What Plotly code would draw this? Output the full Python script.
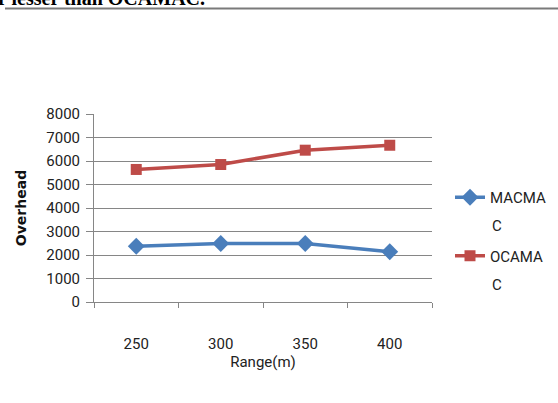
import plotly.graph_objects as go

ranges = ["250", "300", "350", "400"]
macmac = [2370, 2490, 2490, 2140]
ocamac = [5640, 5850, 6460, 6670]
y_ticks = [0, 1000, 2000, 3000, 4000, 5000, 6000, 7000, 8000]

FONT = "Roboto, Liberation Sans, sans-serif"
W, H = 558, 403
L, R, T, B = 94, 126, 114, 101

def py(pix):
    return (H - B - pix) / (H - T - B)

def px(pix):
    return (pix - L) / (W - L - R)

fig = go.Figure()
fig.add_trace(go.Scatter(
    x=ranges, y=macmac, name="MACMA", legendgroup="a", mode="lines+markers",
    line=dict(color="#4A7EBB", width=3.5),
    marker=dict(symbol="diamond", size=13, color="#4A7EBB"),
))
fig.add_trace(go.Scatter(
    x=ranges, y=ocamac, name="OCAMA", legendgroup="b", mode="lines+markers",
    line=dict(color="#BE4B48", width=3.5),
    marker=dict(symbol="square", size=11, color="#BE4B48"),
))

legend_font = dict(family=FONT, size=15, color="#222")

fig.update_layout(
    width=W, height=H,
    margin=dict(l=L, r=R, t=T, b=B, pad=0, autoexpand=False),
    paper_bgcolor="white", plot_bgcolor="white",
    font=dict(family=FONT, size=15, color="#222"),
    showlegend=True,
    legend=dict(x=px(450), y=py(181), xanchor="left", yanchor="top",
                font=legend_font, valign="middle", tracegroupgap=36,
                itemwidth=30, bgcolor="rgba(0,0,0,0)"),
    xaxis=dict(type="category", range=[-0.5, 3.5],
               showline=True, linecolor="#868686", linewidth=1,
               ticks="outside", tickson="boundaries", ticklen=5, tickcolor="#868686",
               showgrid=False, ticklabelstandoff=28,
               tickfont=dict(family=FONT, size=15, color="#222"),
               title=dict(text="Range(m)", standoff=4,
                          font=dict(family=FONT, size=15, color="#222"))),
    yaxis=dict(range=[0, 8000], tickvals=y_ticks,
               showline=True, linecolor="#868686", linewidth=1,
               ticks="outside", ticklen=7, tickcolor="#868686",
               showgrid=True, gridcolor="#868686", gridwidth=1,
               zeroline=False, ticklabelstandoff=3,
               tickfont=dict(family=FONT, size=15, color="#222"),
               title=dict(text="<b>Overhead</b>", standoff=16,
                          font=dict(family="DejaVu Sans, sans-serif", size=14, color="#111"))),
    shapes=[dict(type="line", xref="paper", yref="paper",
                 x0=px(5), x1=px(558), y0=py(8.5), y1=py(8.5),
                 line=dict(color="#7a7a7a", width=2))],
    annotations=[
        dict(text="<b>r lesser than OCAMAC.</b>", xref="paper", yref="paper",
             x=px(-4), y=py(11), xanchor="left", yanchor="bottom",
             showarrow=False,
             font=dict(family="Liberation Serif, Times New Roman, serif",
                       size=20, color="black")),
        dict(text="C", xref="paper", yref="paper", x=px(490), y=py(226),
             xanchor="left", yanchor="middle", showarrow=False, font=legend_font),
        dict(text="C", xref="paper", yref="paper", x=px(490), y=py(285),
             xanchor="left", yanchor="middle", showarrow=False, font=legend_font),
    ],
)

fig.write_html("out.html", config={"displayModeBar": False},
               post_script="document.body.style.margin='0';")
